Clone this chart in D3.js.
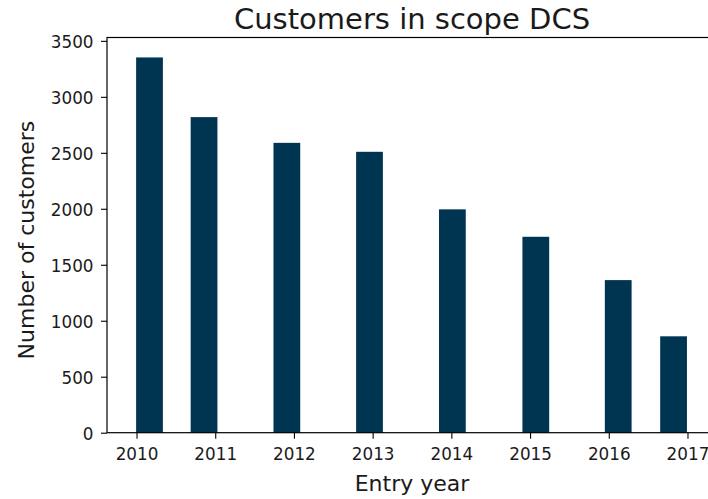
<!DOCTYPE html>
<html>
<head>
<meta charset="utf-8">
<script src="https://cdn.jsdelivr.net/npm/d3@7"></script>
<style>
  html, body { margin: 0; padding: 0; background: #fff; }
  svg text { font-family: "DejaVu Sans", sans-serif; fill: #1a1a1a; }
</style>
</head>
<body>
<svg id="chart" width="708" height="499"></svg>
<script>
// Data
const years = [2010, 2011, 2012, 2013, 2014, 2015, 2016, 2017];
// bar centre positions on the (continuous) year axis, as drawn in the source
const barPositions = [2010.165, 2010.858, 2011.91, 2012.96, 2014.013, 2015.073, 2016.12, 2016.823];
const customers = [3352, 2819, 2589, 2509, 1995, 1750, 1363, 861];
const xTicks = [2010, 2011, 2012, 2013, 2014, 2015, 2016, 2017];
const yTicks = [0, 500, 1000, 1500, 2000, 2500, 3000, 3500];
const barWidthYears = 0.34;

const svg = d3.select("#chart");
const mLeft = 107, mRight = 717, mTop = 37.5, mBottom = 432.7;

const x = d3.scaleLinear().domain([2009.625, 2017.375]).range([mLeft, mRight]);
const y = d3.scaleLinear().domain([0, 3530]).range([mBottom, mTop]);

const barW = x(2010 + barWidthYears) - x(2010);

svg.append("g").selectAll("rect")
  .data(years.map((yr, i) => ({yr, pos: barPositions[i], v: customers[i]})))
  .join("rect")
  .attr("x", d => x(d.pos) - barW / 2)
  .attr("y", d => y(d.v))
  .attr("width", barW)
  .attr("height", d => y(0) - y(d.v))
  .attr("fill", "#003552");

// axes
const xAxis = d3.axisBottom(x).tickValues(xTicks).tickFormat(d3.format("d")).tickSize(6).tickPadding(9);
const yAxis = d3.axisLeft(y).tickValues(yTicks).tickFormat(d3.format("d")).tickSize(6).tickPadding(7.5);

const gx = svg.append("g").attr("transform", `translate(0,${mBottom})`).call(xAxis);
const gy = svg.append("g").attr("transform", `translate(${mLeft},0)`).call(yAxis);
[gx, gy].forEach(g => {
  g.select(".domain").remove();
  g.selectAll(".tick line").attr("stroke", "#000").attr("stroke-width", 1.1);
  g.selectAll(".tick text").attr("font-size", 16.8).attr("font-family", "DejaVu Sans").attr("fill", "#1a1a1a");
});
gy.selectAll(".tick text").attr("dy", "0.42em");

// spines
svg.append("rect")
  .attr("x", mLeft).attr("y", mTop)
  .attr("width", mRight - mLeft).attr("height", mBottom - mTop)
  .attr("fill", "none").attr("stroke", "#000").attr("stroke-width", 1.2);

// title & labels
svg.append("text").attr("x", (mLeft + mRight) / 2).attr("y", 28.5)
  .attr("text-anchor", "middle").attr("font-size", 29).text("Customers in scope DCS");
svg.append("text").attr("x", (mLeft + mRight) / 2).attr("y", 491)
  .attr("text-anchor", "middle").attr("font-size", 22).text("Entry year");
svg.append("text").attr("transform", `translate(33.5,${(mTop + mBottom) / 2 + 5}) rotate(-90)`)
  .attr("text-anchor", "middle").attr("font-size", 22).text("Number of customers");
</script>
</body>
</html>
